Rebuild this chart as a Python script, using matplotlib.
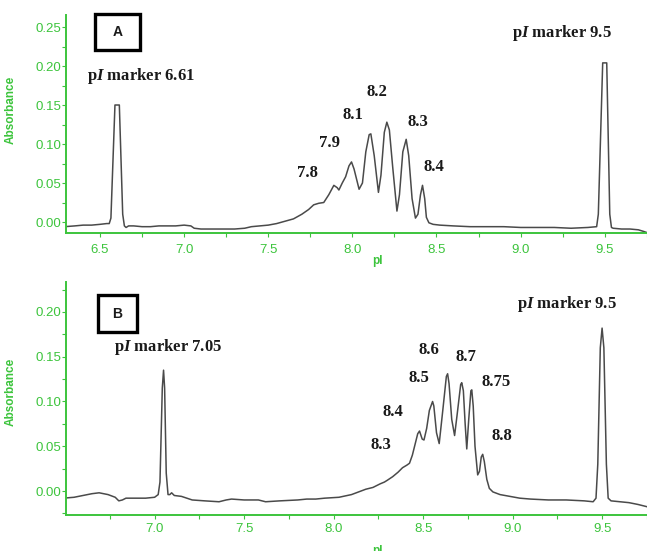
import matplotlib
matplotlib.use("Agg")
import matplotlib.pyplot as plt
from matplotlib.patches import Rectangle
from matplotlib.ticker import MultipleLocator, FormatStrFormatter

plt.rcParams['mathtext.fontset'] = 'custom'
plt.rcParams['mathtext.it'] = 'Liberation Serif:italic:bold'
plt.rcParams['mathtext.rm'] = 'Liberation Serif:bold'

# ---------------- data ----------------
pi_a = [6.29, 6.35, 6.40, 6.45, 6.50, 6.54, 6.555, 6.565, 6.589, 6.615, 6.635, 6.645, 6.655,
        6.67, 6.70, 6.75, 6.80, 6.85, 6.90, 6.95, 7.00, 7.04, 7.06, 7.10, 7.20, 7.30, 7.36,
        7.40, 7.45, 7.50, 7.55, 7.60, 7.65, 7.70, 7.74, 7.77, 7.80, 7.83, 7.86, 7.89, 7.91,
        7.92, 7.94, 7.96, 7.98, 7.995, 8.01, 8.04, 8.06, 8.08, 8.10, 8.11, 8.13, 8.155, 8.17,
        8.19, 8.205, 8.22, 8.24, 8.265, 8.28, 8.30, 8.32, 8.335, 8.355, 8.375, 8.39, 8.405,
        8.417, 8.43, 8.44, 8.455, 8.48, 8.52, 8.60, 8.70, 8.80, 8.90, 9.00, 9.10, 9.20, 9.30,
        9.40, 9.452, 9.462, 9.488, 9.512, 9.53, 9.54, 9.55, 9.60, 9.65, 9.70, 9.73, 9.77]
abs_a = [-0.006, -0.005, -0.004, -0.004, -0.003, -0.002, -0.002, 0.005, 0.150, 0.150, 0.010,
         -0.005, -0.007, -0.005, -0.005, -0.006, -0.006, -0.005, -0.005, -0.005, -0.004,
         -0.005, -0.008, -0.009, -0.009, -0.009, -0.008, -0.006, -0.005, -0.004, -0.002,
         0.001, 0.004, 0.010, 0.016, 0.022, 0.024, 0.025, 0.035, 0.047, 0.044, 0.041, 0.050,
         0.058, 0.072, 0.077, 0.068, 0.042, 0.050, 0.090, 0.112, 0.113, 0.085, 0.038, 0.060,
         0.115, 0.128, 0.118, 0.070, 0.014, 0.035, 0.090, 0.106, 0.085, 0.030, 0.005, 0.010,
         0.035, 0.047, 0.030, 0.006, -0.001, -0.003, -0.004, -0.005, -0.006, -0.006, -0.006,
         -0.007, -0.007, -0.007, -0.008, -0.007, -0.006, 0.010, 0.204, 0.204, 0.010, -0.007,
         -0.008, -0.009, -0.009, -0.010, -0.012, -0.015]

pi_b = [6.49, 6.55, 6.60, 6.65, 6.69, 6.74, 6.78, 6.80, 6.82, 6.84, 6.90, 6.95, 7.00, 7.02,
        7.03, 7.043, 7.05, 7.056, 7.065, 7.075, 7.085, 7.095, 7.11, 7.15, 7.21, 7.28, 7.36,
        7.40, 7.43, 7.50, 7.58, 7.62, 7.70, 7.80, 7.85, 7.90, 7.95, 8.03, 8.10, 8.14, 8.18,
        8.22, 8.26, 8.284, 8.30, 8.33, 8.36, 8.385, 8.41, 8.424, 8.44, 8.455, 8.47, 8.48,
        8.495, 8.505, 8.52, 8.535, 8.553, 8.56, 8.575, 8.59, 8.61, 8.63, 8.637, 8.645, 8.66,
        8.676, 8.69, 8.71, 8.716, 8.725, 8.735, 8.744, 8.755, 8.767, 8.772, 8.78, 8.79,
        8.805, 8.815, 8.825, 8.833, 8.842, 8.856, 8.87, 8.89, 8.93, 8.985, 9.04, 9.10, 9.20,
        9.30, 9.40, 9.45, 9.466, 9.476, 9.490, 9.500, 9.510, 9.524, 9.534, 9.55, 9.60, 9.65,
        9.70, 9.76]
abs_b = [-0.008, -0.007, -0.005, -0.003, -0.002, -0.004, -0.007, -0.011, -0.010, -0.008,
         -0.008, -0.008, -0.007, -0.004, 0.010, 0.115, 0.135, 0.115, 0.020, -0.004, -0.004,
         -0.002, -0.005, -0.006, -0.010, -0.011, -0.012, -0.010, -0.009, -0.010, -0.010,
         -0.012, -0.011, -0.010, -0.009, -0.009, -0.008, -0.007, -0.004, -0.001, 0.002,
         0.004, 0.008, 0.010, 0.012, 0.016, 0.021, 0.026, 0.029, 0.031, 0.040, 0.052, 0.064,
         0.067, 0.058, 0.057, 0.070, 0.090, 0.100, 0.095, 0.065, 0.053, 0.090, 0.128, 0.131,
         0.120, 0.080, 0.062, 0.085, 0.119, 0.121, 0.112, 0.075, 0.047, 0.080, 0.112, 0.113,
         0.095, 0.050, 0.018, 0.022, 0.038, 0.041, 0.033, 0.013, 0.003, -0.001, -0.004,
         -0.006, -0.008, -0.009, -0.010, -0.010, -0.011, -0.012, -0.008, 0.030, 0.160, 0.182,
         0.160, 0.030, -0.008, -0.011, -0.012, -0.013, -0.015, -0.018]

labels_a = ["7.8", "7.9", "8.1", "8.2", "8.3", "8.4"]
label_pos_a = [(7.732, 0.063), (7.863, 0.101), (8.006, 0.137), (8.149, 0.167),
               (8.387, 0.128), (8.482, 0.071)]
markers_a = ["6.61", "9.5"]
marker_pos_a = [(6.744, 0.187), (9.244, 0.242)]

labels_b = ["8.3", "8.4", "8.5", "8.6", "8.7", "8.75", "8.8"]
label_pos_b = [(8.262, 0.051), (8.329, 0.088), (8.475, 0.126), (8.531, 0.158),
               (8.738, 0.150), (8.906, 0.122), (8.940, 0.061)]
markers_b = ["7.05", "9.5"]
marker_pos_b = [(7.074, 0.161), (9.304, 0.209)]

# ---------------- styling ----------------
W, H = 647, 551
GREEN = '#3cc43c'
TRACE = '#4a4a4a'
TXT = '#1a1a1a'

fig = plt.figure(figsize=(W / 100, H / 100), dpi=100)


def px_axes(x0, y_top, x1, y_bot):
    return [x0 / W, 1 - y_bot / H, (x1 - x0) / W, (y_bot - y_top) / H]


def style(ax, xlim, ylim, ylab_y, xlab_y, xpad):
    ax.set_xlim(*xlim)
    ax.set_ylim(*ylim)
    for s in ['top', 'right']:
        ax.spines[s].set_visible(False)
    for s in ['left', 'bottom']:
        ax.spines[s].set_color(GREEN)
        ax.spines[s].set_linewidth(1.4)
    ax.xaxis.set_major_locator(MultipleLocator(0.5))
    ax.xaxis.set_minor_locator(MultipleLocator(0.25))
    ax.yaxis.set_major_locator(MultipleLocator(0.05))
    ax.yaxis.set_minor_locator(MultipleLocator(0.025))
    ax.xaxis.set_major_formatter(FormatStrFormatter('%.1f'))
    ax.yaxis.set_major_formatter(FormatStrFormatter('%.2f'))
    ax.tick_params(axis='both', which='both', colors=GREEN, labelcolor=GREEN,
                   labelsize=9.5, direction='out', width=0.8)
    ax.tick_params(axis='x', which='both', length=3, pad=xpad)
    ax.tick_params(axis='y', which='both', length=3, pad=0.5)
    for lab in ax.get_xticklabels() + ax.get_yticklabels():
        lab.set_family('Liberation Sans')
    ax.set_ylabel('Absorbance', color=GREEN, fontsize=8.5, fontweight='bold',
                  family='Liberation Sans')
    ax.yaxis.set_label_coords(-0.079, ylab_y)
    ax.set_xlabel('pI', color=GREEN, fontsize=8.5, fontweight='bold',
                  family='Liberation Sans')
    ax.xaxis.set_label_coords(0.5, xlab_y)


def panel_box(letter, x0, y0, x1, y1):
    fig.add_artist(Rectangle((x0 / W, 1 - y1 / H), (x1 - x0) / W, (y1 - y0) / H,
                             transform=fig.transFigure, facecolor='white',
                             edgecolor='black', linewidth=2.4, zorder=5))
    fig.text((x0 + x1) / 2 / W, 1 - (y0 + y1) / 2 / H, letter, ha='center', va='center',
             fontsize=10, fontweight='bold', family='Liberation Sans', color=TXT, zorder=6)


def annotate(ax, labels, pos, markers, mpos):
    for t, (x, y) in zip(labels, pos):
        ax.text(x, y, t, ha='center', va='center', fontsize=12, fontweight='bold',
                family='Liberation Serif', color=TXT)
    for t, (x, y) in zip(markers, mpos):
        ax.text(x, y, r'p$\it{I}$ marker ' + t, ha='center', va='center', fontsize=12,
                fontweight='bold', family='Liberation Serif', color=TXT)


# Panel A
axA = fig.add_axes(px_axes(66, 15, 688, 233))
axA.plot(pi_a, abs_a, color=TRACE, lw=1.1, solid_joinstyle='round')
style(axA, (6.298, 9.995), (-0.0141, 0.2654), 0.564, -0.10, 5)
annotate(axA, labels_a, label_pos_a, markers_a, marker_pos_a)
panel_box('A', 95, 14, 140, 50)

# Panel B
axB = fig.add_axes(px_axes(66, 282, 688, 515))
axB.plot(pi_b, abs_b, color=TRACE, lw=1.1, solid_joinstyle='round')
style(axB, (6.505, 9.98), (-0.0268, 0.2335), 0.528, -0.128, 3)
annotate(axB, labels_b, label_pos_b, markers_b, marker_pos_b)
panel_box('B', 98, 295, 137, 332)

fig.savefig('out.png', dpi=100)
